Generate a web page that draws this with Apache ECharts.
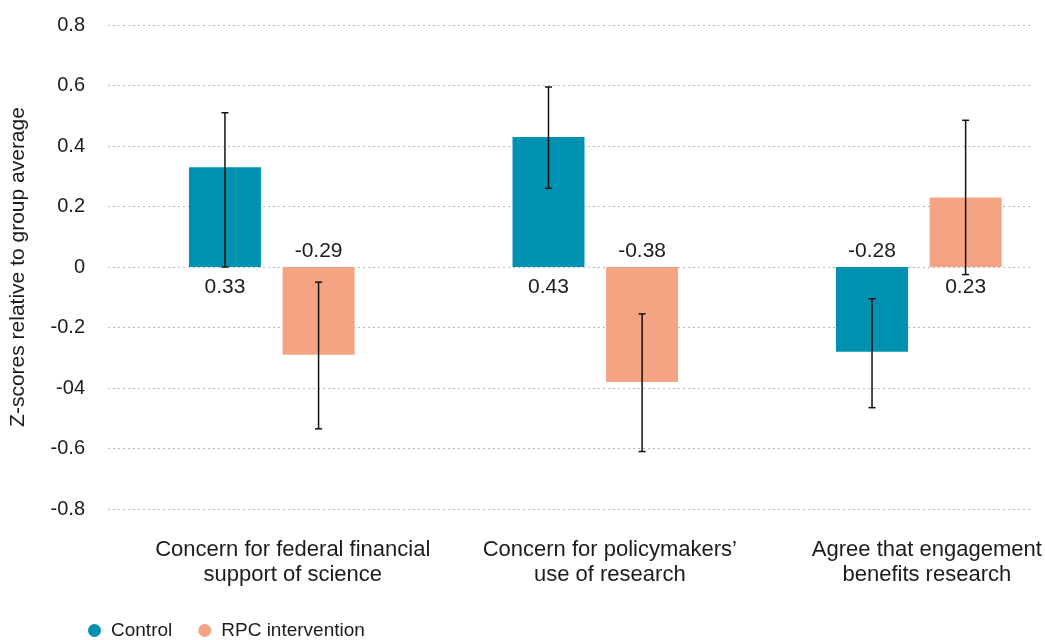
<!DOCTYPE html>
<html>
<head>
<meta charset="utf-8">
<style>
  html, body { margin: 0; padding: 0; background: #fff; }
  #chart { width: 1045px; height: 640px; }
</style>
<script src="https://cdn.jsdelivr.net/npm/echarts@6/dist/echarts.min.js"></script>
</head>
<body>
<div id="chart"></div>
<script>
const categories = [
  'Concern for federal financial\nsupport of science',
  'Concern for policymakers’\nuse of research',
  'Agree that engagement\nbenefits research',
]
const controlValues = [0.33, 0.43, -0.28]
const rpcValues = [-0.29, -0.38, 0.23]
// error bar ends
const controlLow = [0.0, 0.26, -0.465]
const controlHigh = [0.51, 0.595, -0.105]
const rpcLow = [-0.535, -0.61, -0.025]
const rpcHigh = [-0.05, -0.155, 0.485]
const yTickLabels = ['-0.8', '-0.6', '-04', '-0.2', '0', '0.2', '0.4', '0.6', '0.8']
const yMin = -0.8
const yMax = 0.8
const yStep = 0.2

const FONT = '"Liberation Sans", Arial, sans-serif'
const TEXT = '#1c1c1c'
const CONTROL_COLOR = '#0091B0'
const RPC_COLOR = '#F4A482'
const BAR_W = 72
const BAR_GAP = 0.3
const HALF_OFFSET = (BAR_W + BAR_W * BAR_GAP) / 2

// category slots are wider than the visible plot (Excel-style layout), so x is a value axis
const xMin = -0.5
const xMax = 2.39

const barData = (vals) => vals.map((v, i) => ({
  value: [i, v],
  label: { position: v >= 0 ? 'bottom' : 'top', distance: v >= 0 ? 10 : 5 },
}))

const errData = (lo, hi) => lo.map((l, i) => [i, l, hi[i]])

const errorRenderer = (offset) => (params, api) => {
  const x = api.coord([api.value(0), 0])[0] + offset
  const lo = api.coord([api.value(0), api.value(1)])[1]
  const hi = api.coord([api.value(0), api.value(2)])[1]
  const cap = 3.5
  const style = { stroke: '#111', lineWidth: 1.5 }
  return {
    type: 'group',
    children: [
      { type: 'line', shape: { x1: x, y1: hi, x2: x, y2: lo }, style },
      { type: 'line', shape: { x1: x - cap, y1: hi, x2: x + cap, y2: hi }, style },
      { type: 'line', shape: { x1: x - cap, y1: lo, x2: x + cap, y2: lo }, style },
    ],
  }
}

const chart = echarts.init(document.getElementById('chart'), null, { renderer: 'canvas' })

const barLabel = {
  show: true,
  color: TEXT,
  fontFamily: FONT,
  fontSize: 21,
  formatter: (p) => p.value[1].toFixed(2),
}

const catText = { color: TEXT, fontSize: 22, lineHeight: 25, fontFamily: FONT }

chart.setOption({
  animation: false,
  textStyle: { fontFamily: FONT },
  grid: [
    { left: 110, right: 0, top: 25, bottom: 131 },
    { left: 107, right: 14, top: 25, bottom: 131 },
  ],
  legend: {
    data: ['Control', 'RPC intervention'],
    left: 83,
    top: 616,
    icon: 'circle',
    itemWidth: 13,
    itemHeight: 13,
    itemGap: 26,
    textStyle: { color: TEXT, fontSize: 19, fontFamily: FONT, padding: [0, 0, 0, 5] },
  },
  xAxis: [
    {
      type: 'value',
      gridIndex: 0,
      min: xMin,
      max: xMax,
      axisLine: { show: false },
      axisTick: { show: false },
      splitLine: { show: false },
      axisLabel: {
        customValues: [0, 1, 2],
        margin: 28,
        formatter: (v) => {
          const i = Math.round(v)
          return categories[i].split('\n').map((l) => `{c${i}|${l}}`).join('\n')
        },
        rich: {
          c0: { ...catText, padding: [0, 0, 0, 42] },
          c1: { ...catText, padding: [0, 0, 0, 29] },
          c2: { ...catText, padding: [0, 0, 0, 16] },
        },
      },
    },
    { type: 'value', gridIndex: 1, show: false, min: 0, max: 1 },
  ],
  yAxis: [
    { type: 'value', gridIndex: 0, min: yMin, max: yMax, interval: yStep, show: false },
    {
      type: 'value',
      gridIndex: 1,
      min: yMin,
      max: yMax,
      interval: yStep,
      name: 'Z-scores relative to group average',
      nameLocation: 'middle',
      nameRotate: 90,
      nameGap: 79,
      nameTextStyle: { color: TEXT, fontSize: 21, fontFamily: FONT },
      axisLine: { show: false },
      axisTick: { show: false },
      axisLabel: {
        color: TEXT,
        fontSize: 20,
        margin: 23,
        fontFamily: FONT,
        formatter: (v) => yTickLabels[Math.round((v - yMin) / yStep)],
      },
      splitLine: { lineStyle: { color: '#b8b8b8', type: [2, 3], width: 1 } },
    },
  ],
  series: [
    {
      name: 'Control',
      type: 'bar',
      xAxisIndex: 0,
      yAxisIndex: 0,
      barWidth: BAR_W,
      barGap: BAR_GAP * 100 + '%',
      itemStyle: { color: CONTROL_COLOR },
      label: barLabel,
      data: barData(controlValues),
    },
    {
      name: 'RPC intervention',
      type: 'bar',
      xAxisIndex: 0,
      yAxisIndex: 0,
      barWidth: BAR_W,
      barGap: BAR_GAP * 100 + '%',
      itemStyle: { color: RPC_COLOR },
      label: barLabel,
      data: barData(rpcValues),
    },
    {
      type: 'custom',
      xAxisIndex: 0,
      yAxisIndex: 0,
      z: 5,
      renderItem: errorRenderer(-HALF_OFFSET),
      data: errData(controlLow, controlHigh),
    },
    {
      type: 'custom',
      xAxisIndex: 0,
      yAxisIndex: 0,
      z: 5,
      renderItem: errorRenderer(HALF_OFFSET),
      data: errData(rpcLow, rpcHigh),
    },
  ],
})
</script>
</body>
</html>
